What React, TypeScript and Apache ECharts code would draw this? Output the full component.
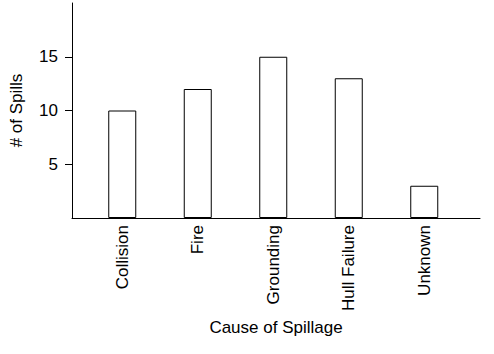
import React, { useEffect, useRef } from "react";
import * as echarts from "echarts";

const categories = ["Collision", "Fire", "Grounding", "Hull Failure", "Unknown"];
const spills = [10, 12, 15, 13, 3];
const yTicks = [5, 10, 15];

export default function App() {
  const ref = useRef<HTMLDivElement>(null);
  useEffect(() => {
    if (!ref.current) return;
    const chart = echarts.init(ref.current, null, { renderer: "svg" });
    const font = "'Liberation Sans', Arial, Helvetica, sans-serif";
    chart.setOption({
      animation: false,
      backgroundColor: "#ffffff",
      grid: [
        { left: 60, right: 14, top: 3, bottom: 136 },
        { left: 84.5, right: 32, top: 3, bottom: 136 },
      ],
      xAxis: [
        {
          gridIndex: 0,
          type: "value",
          min: 0,
          max: 1,
          axisLine: { show: true, lineStyle: { color: "#000", width: 1 } },
          axisTick: { show: false },
          axisLabel: { show: false },
          splitLine: { show: false },
          name: "Cause of Spillage",
          nameLocation: "middle",
          nameGap: 101,
          nameTextStyle: { color: "#000", fontSize: 17, fontFamily: font },
        },
        {
          gridIndex: 1,
          type: "category",
          data: categories,
          axisLine: { show: false },
          axisTick: { show: false },
          axisLabel: {
            rotate: 90,
            margin: 7,
            color: "#000",
            fontSize: 17,
            fontFamily: font,
            interval: 0,
          },
        },
      ],
      yAxis: [
        {
          gridIndex: 0,
          type: "value",
          min: 0,
          max: 20,
          axisLine: { show: true, lineStyle: { color: "#000", width: 1 } },
          axisTick: {
            show: true,
            length: 7,
            customValues: yTicks,
            lineStyle: { color: "#000" },
          },
          axisLabel: {
            customValues: yTicks,
            margin: 14,
            color: "#000",
            fontSize: 17,
            fontFamily: font,
          },
          splitLine: { show: false },
          name: "# of Spills",
          nameLocation: "middle",
          nameGap: 47,
          nameTextStyle: { color: "#000", fontSize: 17, fontFamily: font },
        },
        {
          gridIndex: 1,
          type: "value",
          min: 0,
          max: 20,
          show: false,
        },
      ],
      series: [
        {
          type: "bar",
          xAxisIndex: 1,
          yAxisIndex: 1,
          data: spills,
          barWidth: 28,
          itemStyle: { color: "#ffffff", borderColor: "#000", borderWidth: 1 },
        },
      ],
    });
    return () => chart.dispose();
  }, []);
  return (
    <div
      ref={ref}
      style={{ position: "fixed", left: 0, top: 0, width: 494, height: 354 }}
    />
  );
}
